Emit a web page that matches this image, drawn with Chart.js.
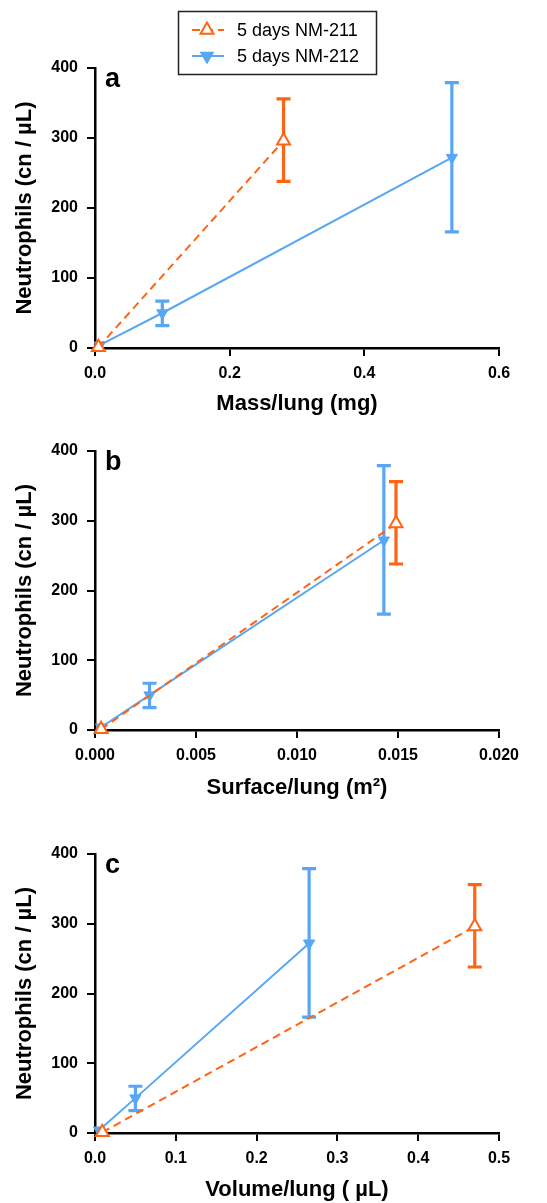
<!DOCTYPE html>
<html>
<head>
<meta charset="utf-8">
<script src="https://cdn.jsdelivr.net/npm/chart.js@4"></script>
<style>
  body { margin: 0; background: #fff; width: 547px; height: 1203px; position: relative; overflow: hidden; }
  .box { position: absolute; left: 0; width: 547px; }
</style>
</head>
<body>
<div class="box" id="boxA" style="top:0;height:420px"><canvas id="chartA"></canvas></div>
<div class="box" id="boxB" style="top:420px;height:384px"><canvas id="chartB"></canvas></div>
<div class="box" id="boxC" style="top:804px;height:399px"><canvas id="chartC"></canvas></div>
<script>
// neutrophil counts (cn / uL), shared by all three panels
const labels = ["5 days NM-211", "5 days NM-212"];
const y211 = [1, 296];
const lo211 = [null, 238];
const hi211 = [null, 356];
const y212 = [4, 50, 272];
const lo212 = [null, 32, 166];
const hi212 = [null, 67, 379];

// dose metrics per lung
const mass211 = [0.005, 0.28];
const mass212 = [0.007, 0.1, 0.53];
const surf211 = [0.0003, 0.0149];
const surf212 = [0.0003, 0.0027, 0.0143];
const vol211 = [0.009, 0.47];
const vol212 = [0.005, 0.05, 0.265];

const yTicks = [0, 100, 200, 300, 400];

const ORANGE = "#ff6414";
const BLUE = "#58a6f4";

function pts(xs, ys){
    return xs.map((x, i) => ({x: x, y: ys[i]}));
}

// vertical error bars with caps, placed through the chart scales
const errBars = {
    id: "errBars",
    beforeDatasetsDraw(chart){
        const ctx = chart.ctx;
        const xs = chart.scales.x, ys = chart.scales.y;
        ctx.save();
        chart.data.datasets.forEach(ds => {
            ctx.strokeStyle = ds.borderColor;
            ctx.lineWidth = 3.2;
            ctx.setLineDash([]);
            ds.data.forEach((p, i) => {
                if(ds.errLo[i] == null) return;
                const px = xs.getPixelForValue(p.x);
                const top = ys.getPixelForValue(ds.errHi[i]);
                const bot = ys.getPixelForValue(ds.errLo[i]);
                ctx.beginPath();
                ctx.moveTo(px, top); ctx.lineTo(px, bot);
                ctx.moveTo(px - 7, top); ctx.lineTo(px + 7, top);
                ctx.moveTo(px - 7, bot); ctx.lineTo(px + 7, bot);
                ctx.stroke();
            });
        });
        ctx.restore();
    }
};

// panel letter in the top-left corner of the plot
const panelLetter = {
    id: "panelLetter",
    afterDraw(chart, args, opts){
        const ctx = chart.ctx;
        ctx.save();
        ctx.fillStyle = "#000";
        ctx.font = "bold 27px Arial, 'Liberation Sans'";
        ctx.textBaseline = "alphabetic";
        ctx.fillText(opts.text, chart.chartArea.left + 10, chart.chartArea.top + 19);
        ctx.restore();
    }
};

// shared legend box drawn on the first panel
const figLegend = {
    id: "figLegend",
    afterDraw(chart, args, opts){
        if(!opts.show) return;
        const ctx = chart.ctx;
        ctx.save();
        ctx.strokeStyle = "#222";
        ctx.lineWidth = 1.5;
        ctx.setLineDash([]);
        ctx.strokeRect(178.5, 11.5, 198, 63);
        chart.data.datasets.forEach((ds, i) => {
            const y = 30 + i * 26;
            ctx.strokeStyle = ds.borderColor;
            ctx.lineWidth = 2;
            ctx.setLineDash(ds.borderDash || []);
            ctx.beginPath();
            ctx.moveTo(192, y); ctx.lineTo(224, y);
            ctx.stroke();
            ctx.setLineDash([]);
            ctx.fillStyle = ds.pointBackgroundColor;
            Chart.helpers.drawPoint(ctx, {
                pointStyle: ds.pointStyle,
                radius: ds.pointRadius,
                rotation: ds.pointRotation || 0,
                borderWidth: ds.pointBorderWidth
            }, 207, y);
            ctx.fillStyle = "#000";
            ctx.font = "18px Arial, 'Liberation Sans'";
            ctx.textBaseline = "middle";
            ctx.fillText(ds.label, 237, y + 1);
        });
        ctx.restore();
    }
};

function makeChart(id, xs211, xs212, xMax, xStep, decimals, xTitle, letter, pad, titlePad, legend){
    const boxH = document.getElementById(id).parentNode.clientHeight;
    return new Chart(document.getElementById(id), {
        type: "scatter",
        data: {
            datasets: [{
                label: labels[0],
                data: pts(xs211, y211),
                errLo: lo211,
                errHi: hi211,
                showLine: true,
                borderColor: ORANGE,
                borderWidth: 2,
                borderDash: [8, 5],
                pointStyle: "triangle",
                pointRadius: 7.5,
                pointBorderWidth: 2,
                pointBackgroundColor: "#fff",
                pointBorderColor: ORANGE,
                clip: false
            }, {
                label: labels[1],
                data: pts(xs212, y212),
                errLo: lo212,
                errHi: hi212,
                showLine: true,
                borderColor: BLUE,
                borderWidth: 2,
                pointStyle: "triangle",
                pointRotation: 180,
                pointRadius: 6.5,
                pointBorderWidth: 1,
                pointBackgroundColor: BLUE,
                pointBorderColor: BLUE,
                clip: false
            }]
        },
        options: {
            responsive: true,
            maintainAspectRatio: false,
            animation: false,
            events: [],
            layout: { padding: { left: 0, right: 48, top: pad.top, bottom: 0 } },
            plugins: {
                legend: { display: false },
                tooltip: { enabled: false },
                panelLetter: { text: letter },
                figLegend: { show: legend }
            },
            scales: {
                x: {
                    type: "linear",
                    min: 0,
                    max: xMax,
                    afterFit: s => { s.height = boxH - pad.bottomPlot; },
                    afterBuildTicks: s => {
                        const t = [];
                        for(let v = 0; v <= xMax + 1e-9; v += xStep) t.push({value: +v.toFixed(6)});
                        s.ticks = t;
                    },
                    border: { color: "#000", width: 2.5 },
                    grid: { drawOnChartArea: false, tickLength: 8, color: "#000", lineWidth: 2 },
                    ticks: {
                        color: "#000",
                        padding: 8,
                        maxRotation: 0,
                        font: { family: "Arial, 'Liberation Sans'", size: 16, weight: "bold" },
                        callback: v => Number(v).toFixed(decimals)
                    },
                    title: {
                        display: true,
                        text: xTitle,
                        color: "#000",
                        padding: { top: 0, bottom: titlePad },
                        font: { family: "Arial, 'Liberation Sans'", size: 22, weight: "bold" }
                    }
                },
                y: {
                    type: "linear",
                    min: 0,
                    max: 400,
                    afterFit: s => { s.width = 95; },
                    afterBuildTicks: s => { s.ticks = yTicks.map(v => ({value: v})); },
                    border: { color: "#000", width: 2.5 },
                    grid: { drawOnChartArea: false, tickLength: 8, color: "#000", lineWidth: 2 },
                    ticks: {
                        color: "#000",
                        padding: 9,
                        font: { family: "Arial, 'Liberation Sans'", size: 16, weight: "bold" }
                    },
                    title: {
                        display: true,
                        text: "Neutrophils (cn / \u00b5L)",
                        color: "#000",
                        padding: { top: 12, bottom: 0 },
                        font: { family: "Arial, 'Liberation Sans'", size: 22, weight: "bold" }
                    }
                }
            }
        },
        plugins: [errBars, panelLetter, figLegend]
    });
}

// pad.top = canvas top to plot top, pad.bottomPlot = plot bottom measured from canvas top
makeChart("chartA", mass211, mass212, 0.6, 0.2, 1, "Mass/lung (mg)", "a", {top: 68, bottomPlot: 348}, 3, true);
makeChart("chartB", surf211, surf212, 0.02, 0.005, 3, "Surface/lung (m\u00b2)", "b", {top: 31, bottomPlot: 310}, 3, false);
makeChart("chartC", vol211, vol212, 0.5, 0.1, 1, "Volume/lung ( \u00b5L)", "c", {top: 50, bottomPlot: 329}, 0, false);
</script>
</body>
</html>
